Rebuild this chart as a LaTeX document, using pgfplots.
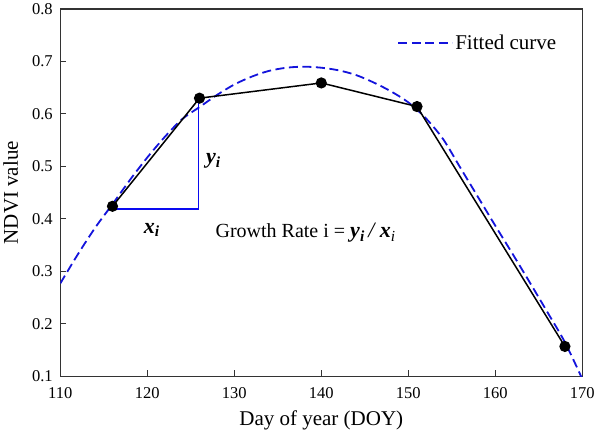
\documentclass[border=0pt]{standalone}
\usepackage{fontspec}
\setmainfont{Liberation Serif}
\usepackage{pgfplots}
\pgfplotsset{compat=1.18}
\definecolor{fitblue}{RGB}{20,20,220}
\definecolor{triblue}{RGB}{10,10,240}
\begin{document}
\begin{tikzpicture}
\begin{axis}[
  scale only axis, width=520bp, height=366bp,
  xmin=110, xmax=170, ymin=0.1, ymax=0.8,
  xtick={110,120,130,140,150,160,170},
  ytick={0.1,0.2,0.3,0.4,0.5,0.6,0.7,0.8},
  tick align=inside, xtick pos=bottom, ytick pos=left,
  major tick length=6bp,
  axis line style={line width=1.3bp, black!80},
  tick style={line width=1bp, black!80},
  /pgf/number format/assume math mode=true,
  yticklabel style={/pgf/number format/fixed, /pgf/number format/fixed zerofill, /pgf/number format/precision=1},
  tick label style={font=\fontsize{16.5}{18}\selectfont},
  xticklabel style={yshift=-8bp},
  yticklabel style={xshift=-4bp},
  xlabel={Day of year (DOY)}, ylabel={NDVI value},
  label style={font=\fontsize{21}{24}\selectfont},
  xlabel style={yshift=-5bp},
  ylabel style={yshift=7bp},
  legend style={draw=none, fill=none, at={(0.96,0.94)}, anchor=north east,
    font=\fontsize{21}{24}\selectfont},
  legend cell align=left,
  legend image code/.code={\draw[#1] (0bp,0bp) -- (54bp,0bp);},
]
\addplot[fitblue, line width=1.8bp, dash pattern=on 9bp off 4.5bp, smooth, tension=0.5]
  coordinates {
  (110,0.277) (112,0.332) (114,0.383) (116,0.428) (118,0.474) (120,0.517)
  (122,0.556) (124,0.590) (126,0.613) (128,0.636) (130,0.656) (132,0.671)
  (134,0.682) (136,0.688) (138,0.690) (140,0.688) (142,0.683) (144,0.674)
  (146,0.660) (148,0.643) (150,0.622) (152,0.592) (154,0.552) (156,0.497)
  (158,0.442) (160,0.387) (162,0.333) (164,0.278) (166,0.222) (168,0.165)
  (170,0.095)
  };
\addlegendentry{Fitted curve}
\addplot[triblue, line width=1.6bp, forget plot] coordinates {(116,0.419) (125.9,0.419) (125.9,0.629)};
\addplot[black, line width=1.5bp, mark=*, mark size=4.8bp, forget plot]
  coordinates {(116,0.424) (126,0.630) (140,0.659) (151,0.614) (168,0.157)};
\node[font=\fontsize{22}{24}\selectfont] at (axis cs:127.6,0.51) {\textbf{\textit{y}}\textsubscript{\textbf{\textit{i}}}};
\node[font=\fontsize{22}{24}\selectfont] at (axis cs:120.5,0.379) {\textbf{\textit{x}}\textsubscript{\textbf{\textit{i}}}};
\node[font=\fontsize{20}{24}\selectfont] at (axis cs:138.2,0.373) {Growth Rate i = {\fontsize{22}{24}\selectfont\textbf{\textit{y}}\textsubscript{\textbf{\textit{i}}}\,\textit{/}\,\textbf{\textit{x}}\textsubscript{\textit{i}}}};
\end{axis}
\end{tikzpicture}
\end{document}
